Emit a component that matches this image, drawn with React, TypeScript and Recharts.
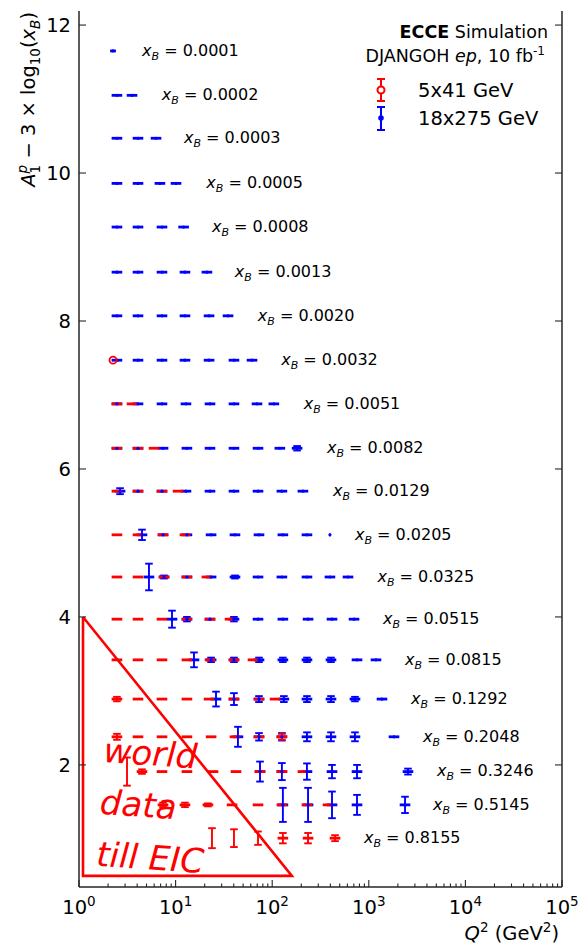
import React from 'react';
import { ScatterChart, Scatter, XAxis, YAxis, ErrorBar, Legend } from 'recharts';

const RED = '#ff0000';
const BLUE = '#0000ff';
const AXIS = '#262626';
const FONT = 'DejaVu Sans, sans-serif';

// x_B bins, one row each, bottom row last
const xBLabels = [
  '0.0001', '0.0002', '0.0003', '0.0005', '0.0008', '0.0013', '0.0020', '0.0032', '0.0051', '0.0082',
  '0.0129', '0.0205', '0.0325', '0.0515', '0.0815', '0.1292', '0.2048', '0.3246', '0.5145', '0.8155',
];

// A1 - 3 log10(xB) for every row
const rowLevels = [
  11.65, 11.05, 10.47, 9.86, 9.27, 8.66, 8.07, 7.47, 6.88, 6.28,
  5.7, 5.11, 4.54, 3.97, 3.42, 2.89, 2.38, 1.91, 1.46, 1.01,
];

// Q2 where each row label starts
const labelQ2 = [4.5, 7.2, 12.2, 20.8, 23.8, 41, 71, 124, 212, 369, 426, 719, 1230, 1400, 2370, 2740, 3640, 5080, 4620, 890];

// 18x275 GeV: [Q2, error on A1, Q2 bar width in decades (optional)]
const blueRows: number[][][] = [
  [[2.25, 0, 0.06]],
  [[2.47, 0], [3.54, 0]],
  [[2.47, 0], [4.08, 0], [6.27, 0]],
  [[2.47, 0], [4.08, 0], [6.88, 0], [10.1, 0]],
  [[2.47, 0], [4.08, 0], [7.23, 0], [12.1, 0]],
  [[2.47, 0], [4.08, 0], [7.23, 0], [12.5, 0], [21.1, 0]],
  [[2.47, 0], [4.08, 0], [7.23, 0], [12.5, 0], [22.2, 0], [34.9, 0]],
  [[2.47, 0], [4.08, 0], [7.23, 0], [12.5, 0], [22.2, 0], [40.2, 0], [61.8, 0]],
  [[2.47, 0], [4.08, 0], [7.23, 0], [12.8, 0], [22.7, 0], [40.2, 0], [69.6, 0], [104, 0]],
  [[2.47, 0], [4.08, 0], [7.41, 0], [13.1, 0], [22.7, 0], [40.2, 0], [71.3, 0], [120, 0], [181, 0.03]],
  [[2.66, 0.04], [4.08, 0], [7.23, 0], [12.8, 0], [22.7, 0], [40.2, 0], [71.3, 0], [126, 0], [208, 0]],
  [[4.49, 0.07], [7.41, 0], [13.1, 0], [23.3, 0], [41.2, 0], [73, 0], [129, 0], [229, 0], [396, 0, 0.02]],
  [[5.3, 0.18], [7.59, 0.02], [13.1, 0], [23.3, 0], [41.2, 0.02], [71.3, 0], [126, 0], [229, 0], [396, 0], [609, 0]],
  [[9.18, 0.115], [13.1, 0.03], [22.7, 0], [40.2, 0.03], [71.3, 0], [129, 0], [235, 0], [416, 0], [703, 0]],
  [[15.5, 0.1], [23.3, 0.03], [40.2, 0.03], [73, 0.03], [129, 0.03], [229, 0.03], [406, 0.03], [755, 0], [1187, 0]],
  [[26.2, 0.1], [40.2, 0.08], [73, 0.04], [132, 0.04], [229, 0.04], [406, 0.04], [719, 0.03], [1369, 0]],
  [[44.2, 0.135], [73, 0.05], [126, 0.05], [229, 0.06], [406, 0.06], [719, 0.06], [1823, 0]],
  [[74.8, 0.135], [126, 0.115], [229, 0.11], [416, 0.09], [755, 0.09], [2545, 0.04]],
  [[129, 0.23], [235, 0.23], [416, 0.18], [755, 0.135], [2371, 0.11]],
  [],
];

// 5x41 GeV, same layout
const redRows: number[][][] = [
  [], [], [], [], [], [], [],
  [[2.25, 0, 0]],
  [[2.47, 0], [3.54, 0]],
  [[2.47, 0], [4.08, 0], [5.98, 0]],
  [[2.47, 0], [4.08, 0], [7.23, 0], [10.6, 0]],
  [[2.47, 0], [4.08, 0], [7.41, 0], [12.5, 0]],
  [[2.47, 0], [4.08, 0], [7.59, 0], [13.1, 0], [21.1, 0]],
  [[2.47, 0], [4.08, 0], [7.23, 0], [13.1, 0], [22.7, 0], [36.6, 0]],
  [[2.47, 0], [4.08, 0], [7.23, 0], [13.1, 0], [22.7, 0], [40.2, 0], [63.3, 0]],
  [[2.47, 0.03], [4.08, 0], [7.23, 0], [13.1, 0], [22.2, 0], [40.2, 0], [73, 0], [107, 0]],
  [[2.47, 0.04], [4.08, 0], [7.23, 0], [13.1, 0], [23.3, 0], [41.2, 0], [73, 0], [126, 0.04]],
  [[3.14, 0.19, 0], [4.49, 0.03], [7.23, 0], [13.1, 0], [24.4, 0], [42.2, 0], [74.8, 0], [126, 0], [208, 0]],
  [[7.41, 0.03], [12.5, 0.03], [21.6, 0.02], [38.4, 0], [71.3, 0], [126, 0], [229, 0], [378, 0]],
  [[23.8, 0.135, 0], [40.2, 0.12, 0], [71.3, 0.09, 0], [129, 0.07], [235, 0.07], [447, 0.04]],
];

// the one 5x41 point drawn with its open marker: [row, Q2]
const redOpenMarkers = [[7, 2.25]];

// "world data till EIC" region
const worldTriangle = [
  { x: 1.1, y: 4.0 },
  { x: 1.1, y: 0.5 },
  { x: 160, y: 0.5 },
  { x: 1.1, y: 4.0 },
];
const worldTextAnchor = [{ x: 1.77, y: 2.04 }];

const DEFAULT_BAR = 0.11;

const toPoints = (rows: number[][][]) =>
  rows.flatMap((row, i) =>
    row.map(([q2, err, w = DEFAULT_BAR]) => {
      const f = Math.pow(10, w / 2);
      return { x: q2, y: rowLevels[i], ex: [q2 - q2 / f, q2 * f - q2], ey: err };
    }),
  );

const bluePoints = toPoints(blueRows);
const redPoints = toPoints(redRows);
const openPoints = redOpenMarkers.map(([row, q2]) => ({ x: q2, y: rowLevels[row] }));
const labelPoints = xBLabels.map((t, i) => ({ x: labelQ2[i], y: rowLevels[i], text: t }));

const xTicks: number[] = [];
for (let e = 0; e < 5; e++) for (let m = 1; m < 10; m++) xTicks.push(m * Math.pow(10, e));
xTicks.push(1e5);
const yTicks = [2, 4, 6, 8, 10, 12];

const isDecade = (v: number) => Math.abs(Math.log10(v) - Math.round(Math.log10(v))) < 1e-6;

const XTick = (props: any) => {
  const { x, y, payload, top } = props;
  const major = isDecade(payload.value);
  const len = major ? 7 : 3.5;
  const dir = top ? 1 : -1;
  return (
    <g>
      <line x1={x} y1={y} x2={x} y2={y + dir * len} stroke={AXIS} strokeWidth={1.1} />
      {major && !top && (
        <text x={x} y={y + 27} textAnchor="middle" fontSize={19.5} fontFamily={FONT} fill="#000">
          10
          <tspan dy={-8} fontSize={13.5}>
            {Math.round(Math.log10(payload.value))}
          </tspan>
        </text>
      )}
    </g>
  );
};

const YTick = (props: any) => {
  const { x, y, payload, right } = props;
  const dir = right ? -1 : 1;
  return (
    <g>
      <line x1={x} y1={y} x2={x + dir * 7} y2={y} stroke={AXIS} strokeWidth={1.1} />
      {!right && (
        <text x={x - 8} y={y} dy="0.36em" textAnchor="end" fontSize={19.5} fontFamily={FONT} fill="#000">
          {payload.value}
        </text>
      )}
    </g>
  );
};

const XLabel = () => (
  <text x={559} y={940} textAnchor="end" fontSize={19.5} fontFamily={FONT} fill="#000">
    <tspan fontStyle="italic">Q</tspan>
    <tspan fontSize={13.5} dy={-8}>2</tspan>
    <tspan dy={8}> (GeV</tspan>
    <tspan fontSize={13.5} dy={-8}>2</tspan>
    <tspan dy={8}>)</tspan>
  </text>
);

const YLabel = () => (
  <text
    x={35}
    y={12}
    transform="rotate(-90, 35, 12)"
    textAnchor="end"
    fontSize={19.5}
    fontFamily={FONT}
    fill="#000"
  >
    <tspan fontStyle="italic">A</tspan>
    <tspan fontSize={13.5} dy={5}>1</tspan>
    <tspan fontSize={13.5} fontStyle="italic" dx={-8.6} dy={-13}>p</tspan>
    <tspan dy={8}> − 3 × log</tspan>
    <tspan fontSize={13.5} dy={5}>10</tspan>
    <tspan dy={-5}>(</tspan>
    <tspan fontStyle="italic">x</tspan>
    <tspan fontSize={13.5} fontStyle="italic" dy={5}>B</tspan>
    <tspan dy={-5}>)</tspan>
  </text>
);

const RowLabel = (props: any) => {
  const { cx, cy, payload } = props;
  return (
    <text x={cx} y={cy} dy="0.3em" fontSize={16} fontFamily={FONT} fill="#000">
      <tspan fontStyle="italic">x</tspan>
      <tspan fontSize={11} fontStyle="italic" dy={4}>B</tspan>
      <tspan dy={-4}> = {payload.text}</tspan>
    </text>
  );
};

const WorldText = (props: any) => {
  const { cx, cy } = props;
  return (
    <text
      x={cx}
      y={cy}
      transform={`rotate(4, ${cx}, ${cy})`}
      fontSize={34}
      fontStyle="italic"
      fontFamily={FONT}
      fill={RED}
    >
      <tspan x={cx}>world</tspan>
      <tspan x={cx} dy={52}>data</tspan>
      <tspan x={cx} dy={52}>till EIC</tspan>
    </text>
  );
};

const Header = () => (
  <svg width={581} height={140} style={{ display: 'block' }}>
    <text x={548} y={38} textAnchor="end" fontSize={17.5} fontFamily={FONT} fill="#000">
      <tspan fontWeight="bold">ECCE</tspan> Simulation
    </text>
    <text x={545} y={62} textAnchor="end" fontSize={17.5} fontFamily={FONT} fill="#000">
      DJANGOH <tspan fontStyle="italic">ep</tspan>, 10 fb
      <tspan fontSize={12} dy={-7}>-1</tspan>
    </text>
    <g stroke={RED} strokeWidth={2}>
      <line x1={381} y1={79} x2={381} y2={101} />
      <line x1={377} y1={79} x2={385} y2={79} />
      <line x1={377} y1={101} x2={385} y2={101} />
      <circle cx={381} cy={90} r={3.5} fill="#fff" />
    </g>
    <text x={418} y={97} fontSize={19.5} fontFamily={FONT} fill="#000">5x41 GeV</text>
    <g stroke={BLUE} strokeWidth={2}>
      <line x1={381} y1={107} x2={381} y2={130} />
      <line x1={377} y1={107} x2={385} y2={107} />
      <line x1={377} y1={130} x2={385} y2={130} />
      <circle cx={381} cy={118} r={1.8} fill={BLUE} />
    </g>
    <text x={418} y={125} fontSize={19.5} fontFamily={FONT} fill="#000">18x275 GeV</text>
  </svg>
);

const axisCommon = {
  type: 'number' as const,
  tickLine: false,
  tickSize: 0,
  tickMargin: 0,
  interval: 0 as const,
  allowDataOverflow: true,
  axisLine: { stroke: AXIS, strokeWidth: 1.5 },
};

export default function App() {
  return (
    <div style={{ position: 'absolute', left: 0, top: 0, background: '#fff' }}>
      <ScatterChart width={581} height={945} margin={{ top: 11, right: 0, bottom: 0, left: 0 }}>
        <XAxis
          {...axisCommon}
          xAxisId={0}
          dataKey="x"
          scale="log"
          domain={[1, 1e5]}
          ticks={xTicks}
          tick={<XTick />}
          height={58}
          label={<XLabel />}
        />
        <XAxis
          {...axisCommon}
          xAxisId="top"
          orientation="top"
          dataKey="x"
          scale="log"
          domain={[1, 1e5]}
          ticks={xTicks}
          tick={<XTick top />}
          height={0}
        />
        <YAxis
          {...axisCommon}
          yAxisId={0}
          dataKey="y"
          domain={[0.35, 12.19]}
          ticks={yTicks}
          tick={<YTick />}
          width={79}
          label={<YLabel />}
        />
        <YAxis
          {...axisCommon}
          yAxisId="right"
          orientation="right"
          dataKey="y"
          domain={[0.35, 12.19]}
          ticks={yTicks}
          tick={<YTick right />}
          width={19}
        />
        <Legend
          layout="vertical"
          verticalAlign="middle"
          align="center"
          content={<Header />}
          wrapperStyle={{ left: 0, top: 0, width: 581, height: 140, pointerEvents: 'none' }}
        />
        <Scatter
          name="world"
          data={worldTriangle}
          line={{ stroke: RED, strokeWidth: 2.6 }}
          shape={() => <g />}
          isAnimationActive={false}
        />
        <Scatter
          name="18x275 GeV"
          data={bluePoints}
          shape={(p: any) => <circle cx={p.cx} cy={p.cy} r={1.6} fill={BLUE} />}
          isAnimationActive={false}
        >
          <ErrorBar dataKey="ex" direction="x" width={0} stroke={BLUE} strokeWidth={2.8} isAnimationActive={false} />
          <ErrorBar dataKey="ey" direction="y" width={3.8} stroke={BLUE} strokeWidth={1.9} isAnimationActive={false} />
        </Scatter>
        <Scatter
          name="5x41 GeV"
          data={redPoints}
          shape={() => <g />}
          isAnimationActive={false}
        >
          <ErrorBar dataKey="ex" direction="x" width={0} stroke={RED} strokeWidth={2.8} isAnimationActive={false} />
          <ErrorBar dataKey="ey" direction="y" width={3.8} stroke={RED} strokeWidth={1.9} isAnimationActive={false} />
        </Scatter>
        <Scatter
          name="5x41 GeV open"
          data={openPoints}
          shape={(p: any) => <circle cx={p.cx} cy={p.cy} r={3.5} fill="none" stroke={RED} strokeWidth={1.8} />}
          isAnimationActive={false}
        />
        <Scatter name="labels" data={labelPoints} shape={<RowLabel />} isAnimationActive={false} />
        <Scatter name="world text" data={worldTextAnchor} shape={<WorldText />} isAnimationActive={false} />
      </ScatterChart>
    </div>
  );
}
